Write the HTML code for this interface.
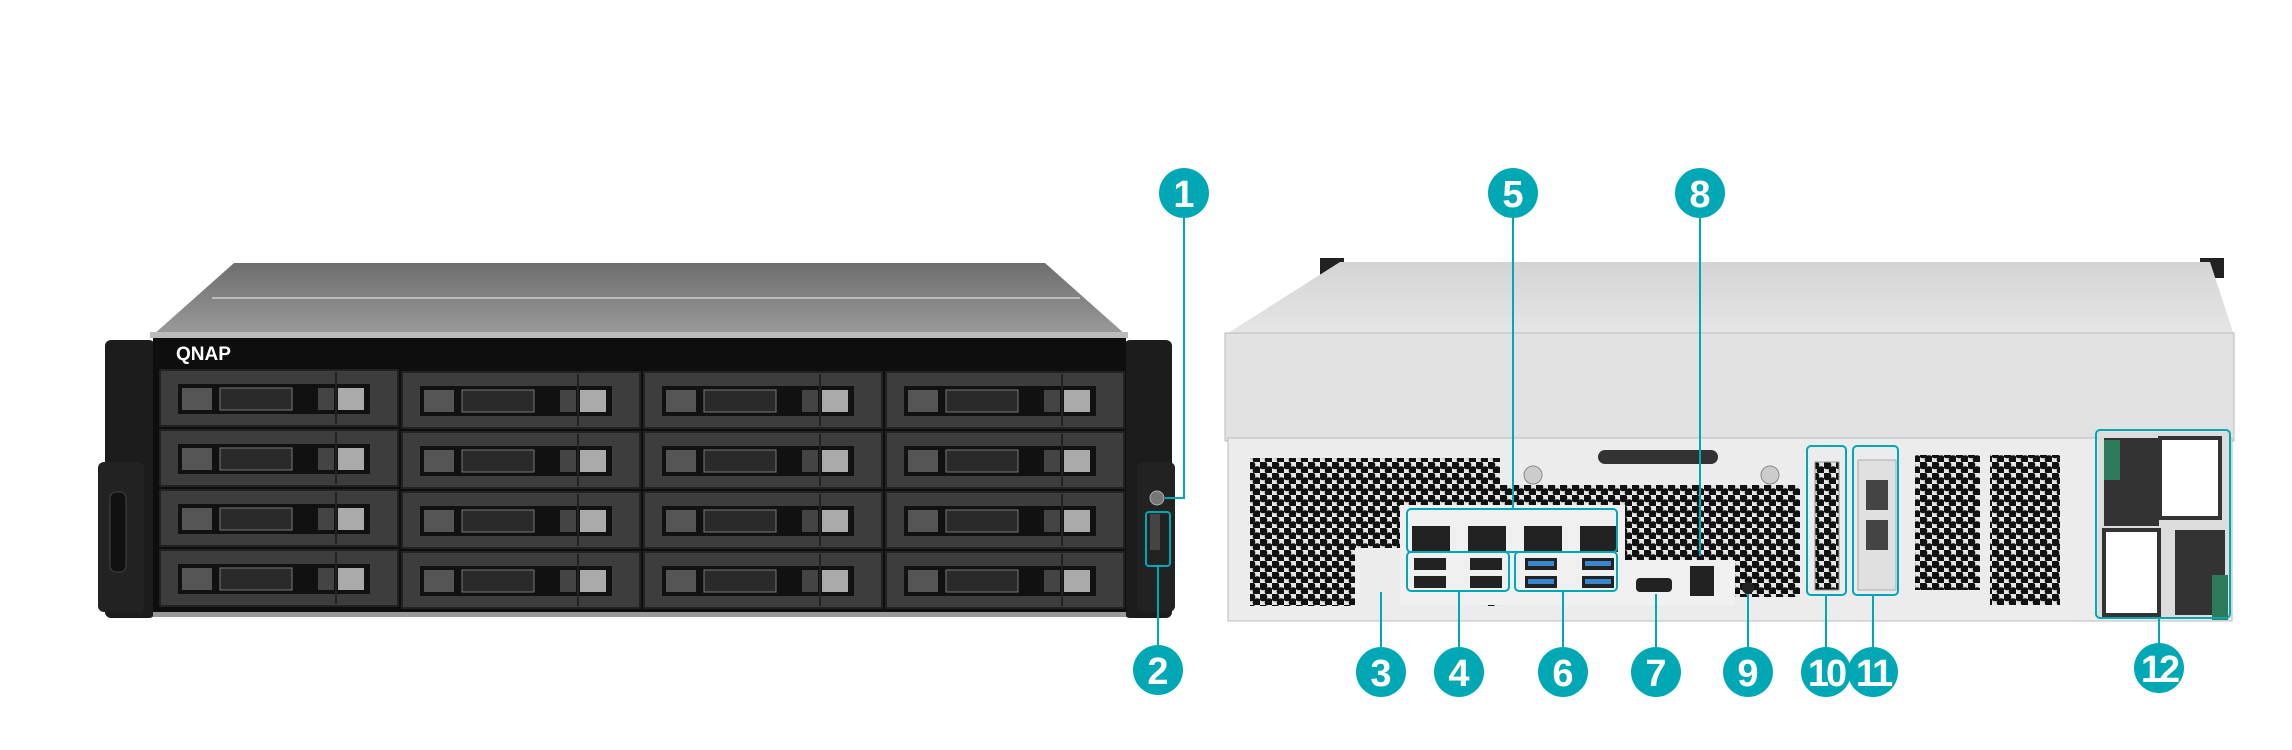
<!DOCTYPE html>
<html><head><meta charset="utf-8"><style>
html,body{margin:0;padding:0;background:#fff;}
svg{display:block;}
.n{font-family:"Liberation Sans Narrow","Liberation Sans",sans-serif;font-weight:bold;fill:#fff;font-size:38px;text-anchor:middle;}
</style></head><body>
<svg width="2292" height="750" viewBox="0 0 2292 750" xmlns="http://www.w3.org/2000/svg">
<defs>
<pattern id="hex" width="12" height="11" patternUnits="userSpaceOnUse">
<rect width="12" height="11" fill="#e6e6e6"/>
<circle cx="3" cy="3" r="4.3" fill="#111"/><circle cx="9" cy="8.5" r="4.3" fill="#111"/>
</pattern>
<linearGradient id="top" x1="0" y1="0" x2="0" y2="1"><stop offset="0" stop-color="#6e6e6e"/><stop offset="1" stop-color="#9a9a9a"/></linearGradient>
<linearGradient id="rtop" x1="0" y1="0" x2="0" y2="1"><stop offset="0" stop-color="#d4d4d4"/><stop offset="1" stop-color="#e6e6e6"/></linearGradient>
<g id="bay">
<rect x="0" y="0" width="238" height="56" fill="#3d3d3d" stroke="#222" stroke-width="2"/>
<rect x="18" y="14" width="192" height="30" fill="#111"/>
<rect x="22" y="18" width="30" height="22" fill="#555"/>
<rect x="60" y="18" width="72" height="22" fill="#2a2a2a" stroke="#777" stroke-width="1"/>
<rect x="158" y="18" width="16" height="22" fill="#444"/>
<rect x="178" y="18" width="26" height="22" fill="#aaa"/>
<line x1="176" y1="2" x2="176" y2="54" stroke="#222" stroke-width="2"/>
</g>
</defs>

<!-- FRONT UNIT -->
<polygon points="234,263 1045,263 1126,335 153,335" fill="url(#top)"/>
<line x1="212" y1="298" x2="1080" y2="298" stroke="#bbb" stroke-width="2"/>
<rect x="150" y="332" width="978" height="6" fill="#bbb"/>
<rect x="105" y="340" width="50" height="278" rx="6" fill="#1c1c1c"/>
<rect x="98" y="462" width="46" height="150" rx="6" fill="#222"/>
<rect x="110" y="492" width="16" height="80" rx="6" fill="#111" stroke="#444"/>
<rect x="1124" y="340" width="48" height="278" rx="6" fill="#1c1c1c"/>
<rect x="1137" y="462" width="38" height="150" rx="6" fill="#222"/>
<rect x="153" y="338" width="973" height="278" fill="#0e0e0e"/>
<text x="176" y="360" font-family="Liberation Sans,sans-serif" font-weight="bold" font-size="19" fill="#fff">QNAP</text>
<g>
<use href="#bay" x="160" y="370"/><use href="#bay" x="402" y="372"/><use href="#bay" x="644" y="372"/><use href="#bay" x="886" y="372"/>
<use href="#bay" x="160" y="430"/><use href="#bay" x="402" y="432"/><use href="#bay" x="644" y="432"/><use href="#bay" x="886" y="432"/>
<use href="#bay" x="160" y="490"/><use href="#bay" x="402" y="492"/><use href="#bay" x="644" y="492"/><use href="#bay" x="886" y="492"/>
<use href="#bay" x="160" y="550"/><use href="#bay" x="402" y="552"/><use href="#bay" x="644" y="552"/><use href="#bay" x="886" y="552"/>
</g>
<rect x="153" y="612" width="973" height="5" fill="#999"/>
<circle cx="1157" cy="498" r="7" fill="#777" stroke="#aaa"/>
<rect x="1150" y="514" width="10" height="36" fill="#444"/>
<polyline points="1184,193 1184,498 1165,498" fill="none" stroke="#00a8b5" stroke-width="2"/>
<rect x="1146" y="512" width="24" height="54" rx="3" fill="none" stroke="#00a8b5" stroke-width="2"/>
<line x1="1158" y1="566" x2="1158" y2="670" stroke="#00a8b5" stroke-width="2"/>

<!-- REAR UNIT -->
<rect x="1320" y="258" width="24" height="20" fill="#222"/>
<rect x="2200" y="258" width="24" height="20" fill="#222"/>
<polygon points="1340,262 2210,262 2234,335 1225,335" fill="url(#rtop)"/>
<rect x="1225" y="333" width="1009" height="108" fill="#e2e2e2" stroke="#bbb"/>
<rect x="1228" y="438" width="1004" height="183" fill="#ececec" stroke="#bbb"/>
<rect x="1250" y="458" width="250" height="148" fill="url(#hex)"/>
<rect x="1500" y="485" width="300" height="112" fill="url(#hex)"/>
<rect x="1355" y="548" width="130" height="58" fill="#ececec"/>
<rect x="1400" y="505" width="225" height="100" fill="#f0f0f0"/>
<rect x="1625" y="560" width="110" height="45" fill="#f0f0f0"/>
<rect x="1598" y="450" width="120" height="14" rx="7" fill="#333"/>
<circle cx="1533" cy="475" r="9" fill="#ccc" stroke="#888"/>
<circle cx="1770" cy="475" r="9" fill="#ccc" stroke="#888"/>
<rect x="1815" y="462" width="24" height="128" fill="url(#hex)" stroke="#999"/>
<rect x="1858" y="460" width="38" height="130" fill="#e0e0e0" stroke="#aaa"/>
<rect x="1866" y="480" width="22" height="30" fill="#444"/><rect x="1866" y="520" width="22" height="30" fill="#444"/>
<rect x="1915" y="455" width="65" height="135" fill="url(#hex)"/>
<rect x="1990" y="455" width="70" height="150" fill="url(#hex)"/>
<rect x="2098" y="432" width="132" height="186" fill="#dcdcdc"/>
<rect x="2104" y="438" width="55" height="88" fill="#333"/><rect x="2104" y="440" width="16" height="40" fill="#2c7a5a"/>
<rect x="2160" y="438" width="60" height="80" fill="#fff" stroke="#333" stroke-width="4"/>
<rect x="2175" y="530" width="50" height="85" fill="#333"/><rect x="2212" y="575" width="16" height="45" fill="#2c7a5a"/>
<rect x="2104" y="530" width="55" height="85" fill="#fff" stroke="#333" stroke-width="4"/>
<g fill="#222">
<rect x="1412" y="526" width="38" height="26"/><rect x="1468" y="526" width="38" height="26"/><rect x="1524" y="526" width="38" height="26"/><rect x="1580" y="526" width="38" height="26"/>
<rect x="1414" y="558" width="32" height="12"/><rect x="1414" y="576" width="32" height="12"/><rect x="1470" y="558" width="32" height="12"/><rect x="1470" y="576" width="32" height="12"/>
<rect x="1525" y="558" width="32" height="12"/><rect x="1525" y="576" width="32" height="12"/><rect x="1582" y="558" width="32" height="12"/><rect x="1582" y="576" width="32" height="12"/>
<rect x="1636" y="578" width="36" height="14" rx="4"/>
<rect x="1690" y="566" width="24" height="30"/>
<circle cx="1748" cy="588" r="6"/>
</g>
<g fill="#3a86d0"><rect x="1528" y="561" width="26" height="5"/><rect x="1528" y="579" width="26" height="5"/><rect x="1585" y="561" width="26" height="5"/><rect x="1585" y="579" width="26" height="5"/></g>
<g fill="none" stroke="#00a8b5" stroke-width="2">
<rect x="1407" y="509" width="210" height="43" rx="4"/>
<rect x="1407" y="552" width="102" height="39" rx="4"/>
<rect x="1515" y="552" width="102" height="39" rx="4"/>
<rect x="1807" y="446" width="39" height="149" rx="4"/>
<rect x="1853" y="446" width="45" height="149" rx="4"/>
<rect x="2096" y="430" width="134" height="188" rx="4"/>
<line x1="1513" y1="193" x2="1513" y2="509"/>
<line x1="1700" y1="193" x2="1700" y2="556"/>
<line x1="1381" y1="592" x2="1381" y2="672"/>
<line x1="1459" y1="591" x2="1459" y2="672"/>
<line x1="1563" y1="591" x2="1563" y2="672"/>
<line x1="1656" y1="594" x2="1656" y2="672"/>
<line x1="1748" y1="594" x2="1748" y2="672"/>
<line x1="1826" y1="595" x2="1826" y2="672"/>
<line x1="1873" y1="595" x2="1873" y2="672"/>
<line x1="2159" y1="618" x2="2159" y2="667"/>
</g>
<g fill="#00a8b5">
<circle cx="1184" cy="193" r="25"/><circle cx="1158" cy="670" r="25"/>
<circle cx="1513" cy="193" r="25"/><circle cx="1700" cy="193" r="25"/>
<circle cx="1381" cy="672" r="25"/><circle cx="1459" cy="672" r="25"/><circle cx="1563" cy="672" r="25"/>
<circle cx="1656" cy="672" r="25"/><circle cx="1748" cy="672" r="25"/><circle cx="1826" cy="672" r="25"/>
<circle cx="1873" cy="672" r="25"/><circle cx="2159" cy="668" r="25"/>
</g>
<g class="n">
<text x="1184" y="207">1</text><text x="1158" y="684">2</text>
<text x="1513" y="207">5</text><text x="1700" y="207">8</text>
<text x="1381" y="686">3</text><text x="1459" y="686">4</text><text x="1563" y="686">6</text>
<text x="1656" y="686">7</text><text x="1748" y="686">9</text>
<text x="1826" y="686" letter-spacing="-3">10</text><text x="1873" y="686" letter-spacing="-3">11</text>
<text x="2159" y="682" letter-spacing="-3">12</text>
</g>
</svg>
</body></html>
